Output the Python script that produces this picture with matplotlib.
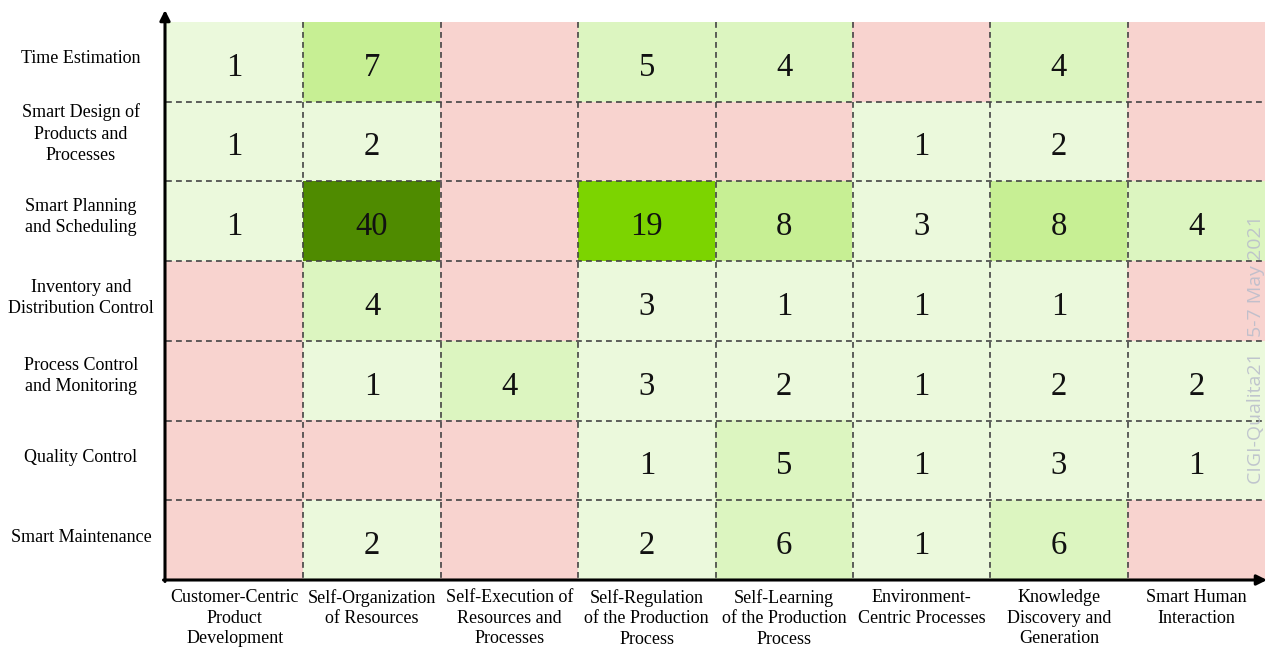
import matplotlib
matplotlib.use("Agg")
import matplotlib.pyplot as plt
from matplotlib.colors import ListedColormap, BoundaryNorm
import numpy as np

plt.rcParams['font.family'] = ['Liberation Serif', 'DejaVu Serif']

row_labels = [
    "Time Estimation",
    "Smart Design of\nProducts and\nProcesses",
    "Smart Planning\nand Scheduling",
    "Inventory and\nDistribution Control",
    "Process Control\nand Monitoring",
    "Quality Control",
    "Smart Maintenance",
]
col_labels = [
    "Customer-Centric\nProduct\nDevelopment",
    "Self-Organization\nof Resources",
    "Self-Execution of\nResources and\nProcesses",
    "Self-Regulation\nof the Production\nProcess",
    "Self-Learning\nof the Production\nProcess",
    "Environment-\nCentric Processes",
    "Knowledge\nDiscovery and\nGeneration",
    "Smart Human\nInteraction",
]

# 0 = no publication (pink cell)
time_estimation     = [1, 7, 0, 5, 4, 0, 4, 0]
smart_design        = [1, 2, 0, 0, 0, 1, 2, 0]
smart_planning      = [1, 40, 0, 19, 8, 3, 8, 4]
inventory_control   = [0, 4, 0, 3, 1, 1, 1, 0]
process_control     = [0, 1, 4, 3, 2, 1, 2, 2]
quality_control     = [0, 0, 0, 1, 5, 1, 3, 1]
smart_maintenance   = [0, 2, 0, 2, 6, 1, 6, 0]

values = np.array([time_estimation, smart_design, smart_planning,
                   inventory_control, process_control, quality_control,
                   smart_maintenance])

colors = ["#f8d3cf", "#ebf9dc", "#dcf5c0", "#c7ef94", "#7cd400", "#4f8b00"]
bounds = [-0.5, 0.5, 3.5, 6.5, 10.5, 25, 60]
cmap = ListedColormap(colors)
norm = BoundaryNorm(bounds, cmap.N)

W, H = 1268, 648
fig = plt.figure(figsize=(W / 100, H / 100), dpi=100)
left, right, top, bottom = 166, 1265, 22, 580
ax = fig.add_axes([left / W, 1 - bottom / H, (right - left) / W, (bottom - top) / H])

nr, nc = values.shape
ax.imshow(values, cmap=cmap, norm=norm, aspect='auto',
          extent=(0, nc, nr, 0), interpolation='nearest')
ax.set_xlim(0, nc)
ax.set_ylim(nr, 0)

for i in range(nr):
    for j in range(nc):
        v = values[i, j]
        if v > 0:
            ax.text(j + 0.5, i + 0.57, str(v), ha='center', va='center',
                    fontsize=23.5, color='#111111')

# dashed internal grid
for j in range(1, nc):
    ax.plot([j, j], [0, nr], color='#444444', lw=1.2, ls=(0, (3.5, 2.5)))
for i in range(1, nr):
    ax.plot([0, nc], [i, i], color='#444444', lw=1.2, ls=(0, (3.5, 2.5)))

for s in ax.spines.values():
    s.set_visible(False)
ax.set_xticks([])
ax.set_yticks([])

# row labels
row_offsets = [-3, -8, -4, -3, -5, -3, -3]
for i, lab in enumerate(row_labels):
    yc = top + (i + 0.5) * (bottom - top) / nr + row_offsets[i]
    fig.text(81 / W, 1 - yc / H, lab,
             ha='center', va='center', fontsize=13, linespacing=1.33)

# column labels
for j, lab in enumerate(col_labels):
    xc = left + (j + 0.5) * (right - left) / nc
    fig.text(xc / W, 1 - 589 / H, lab, ha='center', va='top', fontsize=13,
             linespacing=1.27)

# axes arrows
ax0x, ax0y = 165 / W, 1 - 580 / H
fig.add_artist(matplotlib.patches.FancyArrowPatch(
    (ax0x, ax0y - 1.5 / H), (ax0x, 1 - 10 / H), transform=fig.transFigure,
    arrowstyle='-|>,head_length=6,head_width=3', color='black', lw=2.2,
    shrinkA=0, shrinkB=0))
fig.add_artist(matplotlib.patches.FancyArrowPatch(
    (ax0x - 1.5 / W, ax0y), (1267 / W, ax0y), transform=fig.transFigure,
    arrowstyle='-|>,head_length=6,head_width=3', color='black', lw=2.2,
    shrinkA=0, shrinkB=0))

# watermark
fig.text(1256 / W, 1 - 350 / H, "CIGI-Qualita21   5-7 May 2021", rotation=90,
         ha='center', va='center', fontsize=14, color='#b8bccb', alpha=0.85,
         family=['Open Sans', 'DejaVu Sans'])

fig.savefig("out.png", dpi=100, facecolor='white')
